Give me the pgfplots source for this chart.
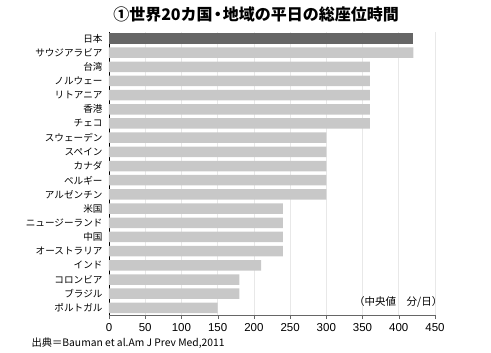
\documentclass[border=0pt]{standalone}
\usepackage{pgfplots}
\pgfplotsset{compat=1.18}
\usepackage{fontspec}
\setmainfont{Noto Sans CJK JP}
\newfontfamily\numfont{Liberation Sans}
\definecolor{barlight}{HTML}{C8C8C8}
\definecolor{bardark}{HTML}{666666}
\begin{document}
\begin{tikzpicture}[x=1pt,y=1pt]
\useasboundingbox (0,0) rectangle (491,353);
\node[font=\fontsize{16}{17}\selectfont\bfseries, inner sep=0pt] at (256,339) {①世界20カ国\kern-3pt・\kern-3pt 地域の平日の総座位時間};
\node[font=\fontsize{10.3}{11}\selectfont, anchor=west] at (28,10) {出典＝Bauman et al.Am J Prev Med,2011};
\begin{axis}[
  at={(109pt,38pt)}, anchor=south west,
  scale only axis, width=326pt, height=283pt,
  xmin=0, xmax=450, ymin=-0.45, ymax=19.5,
  y dir=reverse,
  xbar, bar width=10.5pt,
  xtick={0,50,...,450},
  ytick={0,...,19},
  yticklabels={日本,サウジアラビア,台湾,ノルウェー,リトアニア,香港,チェコ,スウェーデン,スペイン,カナダ,ベルギー,アルゼンチン,米国,ニュージーランド,中国,オーストラリア,インド,コロンビア,ブラジル,ポルトガル},
  axis x line*=bottom, axis y line*=left,
  x axis line style={-, gray!80!black},
  y axis line style={-, black},
  major tick length=4pt,
  xtick style={gray!80!black},
  xtick pos=bottom, xtick align=outside,
  ytick style={draw=none},
  xmajorgrids, grid style={gray!18, line width=0.6pt},
  y tick label style={font=\fontsize{9.6}{11}\selectfont, xshift=1pt},
  x tick label style={font=\numfont\fontsize{11.5}{12}\selectfont, yshift=-1pt},
  /pgf/number format/assume math mode=true,
  clip=false,
]
\addplot[fill=bardark, draw=none, bar shift=0pt] coordinates {(420,0)};
\addplot[fill=barlight, draw=none, bar shift=0pt] coordinates {
(420,1) (360,2) (360,3) (360,4) (360,5) (360,6)
(300,7) (300,8) (300,9) (300,10) (300,11)
(240,12) (240,13) (240,14) (240,15) (210,16)
(180,17) (180,18) (150,19)};
\node[anchor=east, font=\fontsize{10.5}{11}\selectfont] at (axis cs:465,18.6) {（中央値　分/日）};
\end{axis}
\end{tikzpicture}
\end{document}
